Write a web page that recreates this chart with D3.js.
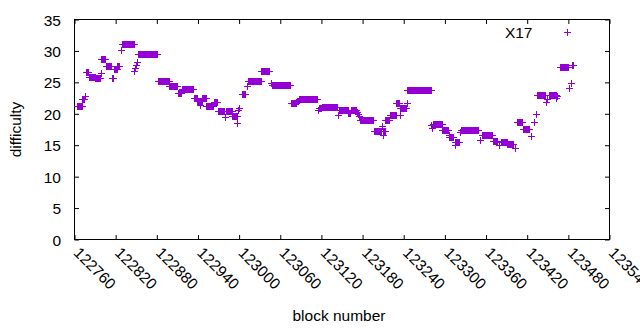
<!DOCTYPE html>
<html>
<head>
<meta charset="utf-8">
<script src="https://cdn.jsdelivr.net/npm/d3@7/dist/d3.min.js"></script>
<style>
  body { margin: 0; background: #fff; }
  text { font-family: "Liberation Sans", Arial, sans-serif; font-size: 15.5px; fill: #000; }
</style>
</head>
<body>
<script>
var width = 640;
var height = 330;

// difficulty runs: block range (inclusive) and value
var runFrom = [122765,122772,122776,122777,122782,122791,122799,122800,122806,122815,122818,122823,122829,122830,122848,122849,122850,122852,122853,122882,122899,122911,122917,122935,122940,122943,122944,122947,122953,122964,122970,122980,122981,122982,122991,122998,122999,123000,123005,123012,123013,123033,123047,123049,123076,123085,123088,123116,123117,123121,123145,123146,123160,123164,123172,123174,123175,123177,123197,123209,123210,123211,123212,123214,123220,123230,123235,123236,123245,123246,123281,123282,123283,123297,123306,123307,123315,123316,123323,123324,123352,123355,123371,123380,123383,123392,123403,123406,123415,123426,123430,123434,123435,123448,123449,123452,123463,123464,123469,123482,123485,123486];
var runTo   = [122771,122775,122776,122781,122790,122798,122799,122805,122814,122817,122822,122826,122829,122847,122848,122849,122850,122852,122881,122898,122910,122916,122934,122939,122942,122943,122946,122952,122963,122969,122979,122980,122981,122990,122997,122998,122999,123001,123009,123012,123032,123045,123047,123075,123084,123087,123115,123116,123120,123144,123145,123159,123163,123171,123173,123174,123176,123196,123208,123209,123210,123211,123213,123219,123229,123234,123235,123244,123245,123280,123281,123282,123296,123305,123306,123312,123315,123321,123323,123349,123352,123370,123377,123380,123391,123400,123403,123413,123424,123426,123431,123434,123447,123448,123449,123462,123463,123464,123480,123482,123485,123488];
var runValue = [21.1,22.2,22.7,26.5,25.8,25.6,26.4,28.6,27.5,25.6,27.0,27.5,30.0,31.0,26.8,27.2,27.7,28.2,29.5,25.2,24.3,23.3,23.8,22.4,22.0,21.3,22.0,22.4,21.2,21.8,20.4,19.4,20.4,20.3,19.6,18.4,20.5,20.8,23.0,24.3,25.1,26.8,24.8,24.45,21.6,21.9,22.2,20.5,20.8,21.05,19.8,20.6,20.1,20.6,20.2,19.9,19.5,19.0,17.2,18.0,17.2,16.5,17.2,18.9,19.7,21.6,19.7,20.8,21.7,23.65,18.1,17.6,18.25,17.3,16.6,16.2,15.0,15.5,17.0,17.3,15.75,16.5,15.6,15.0,15.5,15.05,14.5,18.6,17.45,16.4,18.6,19.9,22.9,21.8,22.2,22.9,22.4,22.7,27.3,24.0,24.8,27.7];

var xTicks = [122760,122820,122880,122940,123000,123060,123120,123180,123240,123300,123360,123420,123480,123540];
var yTicks = [0,5,10,15,20,25,30,35];
var seriesName = "X17";
var color = "#9400d3";

var points = [];
runFrom.forEach(function (f, i) {
    for (var b = f; b <= runTo[i]; b++) points.push({block: b, value: runValue[i]});
});

var plotLeft = 74.5, plotRight = 609.5, plotTop = 19.5, plotBottom = 239.5;
var tick = 4.5;
var arm = 3.5;

var x = d3.scaleLinear().domain([xTicks[0], xTicks[xTicks.length - 1]]).range([plotLeft, plotRight]);
var y = d3.scaleLinear().domain([yTicks[0], yTicks[yTicks.length - 1]]).range([plotBottom, plotTop]);

var svg = d3.select("body").append("svg")
    .attr("width", width)
    .attr("height", height);

svg.append("rect")
    .attr("width", width)
    .attr("height", height)
    .attr("fill", "#fff");

// bottom axis, labels turned down to the right
var gx = svg.append("g")
    .attr("transform", "translate(0," + plotBottom + ")")
    .call(d3.axisBottom(x).tickValues(xTicks).tickFormat(d3.format("d")).tickSizeInner(-tick).tickSizeOuter(0));
gx.select(".domain").remove();
gx.selectAll("text")
    .attr("x", 0).attr("y", 0).attr("dy", null)
    .attr("text-anchor", "start")
    .attr("transform", "translate(-2.2,14.3) rotate(45)");

// mirrored ticks on top
var gxt = svg.append("g")
    .attr("transform", "translate(0," + plotTop + ")")
    .call(d3.axisTop(x).tickValues(xTicks).tickFormat("").tickSizeInner(-tick).tickSizeOuter(0));
gxt.select(".domain").remove();

var gy = svg.append("g")
    .attr("transform", "translate(" + plotLeft + ",0)")
    .call(d3.axisLeft(y).tickValues(yTicks).tickSizeInner(-tick).tickSizeOuter(0));
gy.select(".domain").remove();
gy.selectAll("text")
    .attr("x", -13.5)
    .attr("dy", "0.36em");

var gyr = svg.append("g")
    .attr("transform", "translate(" + plotRight + ",0)")
    .call(d3.axisRight(y).tickValues(yTicks).tickFormat("").tickSizeInner(-tick).tickSizeOuter(0));
gyr.select(".domain").remove();

svg.selectAll(".tick line").attr("stroke", "#000");
svg.selectAll(".tick text").attr("fill", "#000");
svg.selectAll("g").attr("font-family", null).attr("font-size", null);

// border
svg.append("rect")
    .attr("x", plotLeft).attr("y", plotTop)
    .attr("width", plotRight - plotLeft).attr("height", plotBottom - plotTop)
    .attr("fill", "none")
    .attr("stroke", "#000")
    .attr("stroke-width", 1);

// "+" marker, snapped to the pixel grid so the 1px strokes stay crisp
function plus(cx, cy) {
    cx = Math.round(cx - 0.5) + 0.5;
    cy = Math.round(cy - 0.5) + 0.5;
    return "M" + (cx - arm) + "," + cy + "H" + (cx + arm) + "M" + cx + "," + (cy - arm) + "V" + (cy + arm);
}

svg.append("path")
    .attr("d", points.map(function (d) { return plus(x(d.block), y(d.value)); }).join(""))
    .attr("fill", "none")
    .attr("stroke", color)
    .attr("stroke-width", 1);

// legend
svg.append("text")
    .attr("x", 532.5).attr("y", 32).attr("dy", "0.36em")
    .attr("text-anchor", "end")
    .text(seriesName);
svg.append("path")
    .attr("d", plus(567.5, 32))
    .attr("stroke", color)
    .attr("stroke-width", 1);

// axis titles
svg.append("text")
    .attr("x", 339).attr("y", 320.5)
    .attr("text-anchor", "middle")
    .text("block number");

svg.append("text")
    .attr("transform", "translate(21," + ((plotTop + plotBottom) / 2) + ") rotate(-90)")
    .attr("text-anchor", "middle")
    .text("difficulty");
</script>
</body>
</html>
